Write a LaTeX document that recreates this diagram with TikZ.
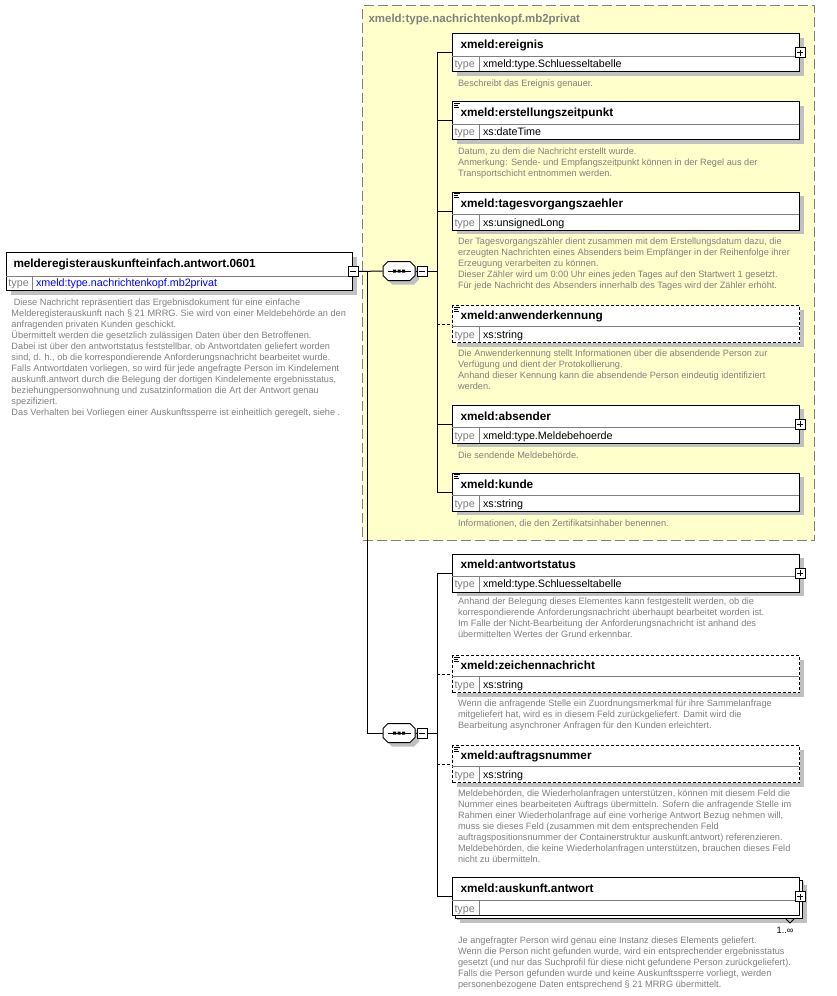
\documentclass[tikz,border=0pt]{standalone}
\usepackage{fontspec}
\setmainfont{Liberation Sans}
\usepackage{tikz}
\usetikzlibrary{positioning,calc,shadows}
\definecolor{DescGray}{RGB}{128,128,128}
\definecolor{ShadowGray}{RGB}{192,192,192}
\definecolor{GroupFill}{RGB}{255,255,204}
\definecolor{TypeBlue}{RGB}{0,0,255}

\tikzset{
  elbox/.style={draw, fill=white, anchor=north west, inner sep=0pt,
    minimum width=347pt, minimum height=38pt,
    drop shadow={shadow xshift=4pt, shadow yshift=-4pt, fill=ShadowGray, opacity=1}},
  optbox/.style={elbox, dash pattern=on 3pt off 2pt, minimum height=37pt},
  eltitle/.style={anchor=base west, inner sep=0pt, font=\fontsize{11.8}{14}\selectfont\bfseries},
  typelbl/.style={anchor=base west, inner sep=0pt, text=DescGray, font=\fontsize{10.75}{13}\selectfont},
  typeval/.style={anchor=base west, inner sep=0pt, font=\fontsize{10.75}{13}\selectfont},
  desc/.style={anchor=north west, inner sep=0pt, align=left, text=DescGray,
    font=\fontsize{9.2}{11}\selectfont, execute at begin node=\rule{0pt}{7.5pt}},
  cell/.style={draw=DescGray},
  optline/.style={dash pattern=on 3pt off 2pt},
  icon/.style={line width=0.8pt},
  grpbox/.style={draw=DescGray, fill=GroupFill, dash pattern=on 10pt off 4pt,
    anchor=north west, inner sep=0pt, minimum width=452pt, minimum height=535pt},
  grptitle/.style={anchor=base west, inner sep=0pt, text=DescGray, font=\fontsize{11.5}{14}\selectfont\bfseries},
  seq/.style={inner sep=0pt, minimum width=32pt, minimum height=19pt},
  seqsym/.pic={
    \fill[ShadowGray] (-7,-5.5) -- (15,-5.5) -- (20,-0.5) -- (20,8.5) -- (15,13.5) -- (-7,13.5) -- (-12,8.5) -- (-12,-0.5) -- cycle;
    \draw[fill=white] (-11,-9.5) -- (11,-9.5) -- (16,-4.5) -- (16,4.5) -- (11,9.5) -- (-11,9.5) -- (-16,4.5) -- (-16,-4.5) -- cycle;
    \draw (-11.5,0) -- (11.5,0);
    \fill (-6,-1.5) rectangle (-3,1.5) (-1.5,-1.5) rectangle (1.5,1.5) (3,-1.5) rectangle (6,1.5);
  },
  minusbox/.style={draw, fill=white, minimum size=10pt, inner sep=0pt,
    path picture={\draw ([xshift=2pt]path picture bounding box.west) -- ([xshift=-2pt]path picture bounding box.east);}},
  plusbox/.style={draw, fill=white, minimum size=10pt, inner sep=0pt,
    path picture={\draw ([xshift=2pt]path picture bounding box.west) -- ([xshift=-2pt]path picture bounding box.east)
      ([yshift=-2pt]path picture bounding box.north) -- ([yshift=2pt]path picture bounding box.south);}}
}

\begin{document}
\begin{tikzpicture}[x=1pt, y=-1pt, line width=1pt]
\useasboundingbox (0,0) rectangle (836,996);

% group xmeld:type.nachrichtenkopf.mb2privat
\node[grpbox] (grp) at (362,5) {};
\node[grptitle] (grp-n) at (368,22.7) {xmeld:type.nachrichtenkopf.mb2privat};

% root element
\node[elbox, minimum width=346pt] (root) at (6,252) {};
\node[eltitle, font=\fontsize{11.75}{14}\selectfont\bfseries] (root-n) at (13,267.7) {melderegisterauskunfteinfach.antwort.0601};
\draw[cell] (6,276) -- (352,276) (32,276) -- (32,290);
\node[typelbl] (root-l) at (8,286.7) {type};
\node[typeval, text=TypeBlue] (root-t) at (35.5,286.7) {xmeld:type.nachrichtenkopf.mb2privat};
\node[minusbox] (root-m) at (root.east) {};
\node[desc] (root-d) at (11,298.2) {\hspace{2.3pt}Diese Nachricht repräsentiert das Ergebnisdokument für eine einfache\\
  Melderegisterauskunft nach § 21 MRRG. Sie wird von einer Meldebehörde an den\\
  anfragenden privaten Kunden geschickt.\\
  Übermittelt werden die gesetzlich zulässigen Daten über den Betroffenen.\\
  Dabei ist über den antwortstatus feststellbar, ob Antwortdaten geliefert worden\\
  sind, d. h., ob die korrespondierende Anforderungsnachricht bearbeitet wurde.\\
  Falls Antwortdaten vorliegen, so wird für jede angefragte Person im Kindelement\\
  auskunft.antwort durch die Belegung der dortigen Kindelemente ergebnisstatus,\\
  beziehungpersonwohnung und zusatzinformation die Art der Antwort genau\\
  spezifiziert.\\
  Das Verhalten bei Vorliegen einer Auskunftssperre ist einheitlich geregelt, siehe .};

% sequences
\node[seq] (seq1) at (399,271) {};
\pic at (seq1) {seqsym};
\node[minusbox] (seq1-m) at (422,271) {};
\node[seq] (seq2) at (399,733) {};
\pic at (seq2) {seqsym};
\node[minusbox] (seq2-m) at (422,733) {};

% ereignis
\node[elbox] (ereignis) at (452,33) {};
\node[eltitle] (ereignis-n) at (460,48.5) {xmeld:ereignis};
\draw[cell] (452,56) -- (799,56) (479,56) -- (479,71);
\node[typelbl] (ereignis-l) at (454,67.5) {type};
\node[typeval] (ereignis-t) at (482.5,67.5) {xmeld:type.Schluesseltabelle};
\node[plusbox] (ereignis-p) at (ereignis.east) {};
\node[desc] (ereignis-d) at (457.5,78.5) {Beschreibt das Ereignis genauer.};

% erstellungszeitpunkt
\node[elbox] (erstellung) at (452,101) {};
\draw[icon] (erstellung.north west) +(2,2) -- +(8,2) +(2,4) -- +(6,4) +(2,6) -- +(7,6);
\node[eltitle] (erstellung-n) at (460,116.5) {xmeld:erstellungszeitpunkt};
\draw[cell] (452,124) -- (799,124) (479,124) -- (479,139);
\node[typelbl] (erstellung-l) at (454,135.5) {type};
\node[typeval] (erstellung-t) at (482.5,135.5) {xs:dateTime};
\node[desc] (erstellung-d) at (457.5,147.5) {Datum, zu dem die Nachricht erstellt wurde.\\
  Anmerkung: Sende- und Empfangszeitpunkt können in der Regel aus der\\
  Transportschicht entnommen werden.};

% tagesvorgangszaehler
\node[elbox] (tages) at (452,191.5) {};
\draw[icon] (tages.north west) +(2,2) -- +(8,2) +(2,4) -- +(6,4) +(2,6) -- +(7,6);
\node[eltitle] (tages-n) at (460,207) {xmeld:tagesvorgangszaehler};
\draw[cell] (452,214.5) -- (799,214.5) (479,214.5) -- (479,229.5);
\node[typelbl] (tages-l) at (454,226) {type};
\node[typeval] (tages-t) at (482.5,226) {xs:unsignedLong};
\node[desc] (tages-d) at (457.5,237.5) {Der Tagesvorgangszähler dient zusammen mit dem Erstellungsdatum dazu, die\\
  erzeugten Nachrichten eines Absenders beim Empfänger in der Reihenfolge ihrer\\
  Erzeugung verarbeiten zu können.\\
  Dieser Zähler wird um 0:00 Uhr eines jeden Tages auf den Startwert 1 gesetzt.\\
  Für jede Nachricht des Absenders innerhalb des Tages wird der Zähler erhöht.};

% anwenderkennung
\node[optbox] (anwender) at (452,305) {};
\draw[icon] (anwender.north west) +(2,2) -- +(8,2) +(2,4) -- +(6,4) +(2,6) -- +(7,6);
\node[eltitle] (anwender-n) at (460,319) {xmeld:anwenderkennung};
\draw[cell] (452,326.5) -- (799,326.5) (479,326.5) -- (479,342);
\node[typelbl] (anwender-l) at (454,338.5) {type};
\node[typeval] (anwender-t) at (482.5,338.5) {xs:string};
\node[desc] (anwender-d) at (457.5,349) {Die Anwenderkennung stellt Informationen über die absendende Person zur\\
  Verfügung und dient der Protokollierung.\\
  Anhand dieser Kennung kann die absendende Person eindeutig identifiziert\\
  werden.};

% absender
\node[elbox] (absender) at (452,404.5) {};
\node[eltitle] (absender-n) at (460,420) {xmeld:absender};
\draw[cell] (452,427.5) -- (799,427.5) (479,427.5) -- (479,442.5);
\node[typelbl] (absender-l) at (454,439) {type};
\node[typeval] (absender-t) at (482.5,439) {xmeld:type.Meldebehoerde};
\node[plusbox] (absender-p) at (absender.east) {};
\node[desc] (absender-d) at (457.5,450) {Die sendende Meldebehörde.};

% kunde
\node[elbox] (kunde) at (452,472.5) {};
\draw[icon] (kunde.north west) +(2,2) -- +(8,2) +(2,4) -- +(6,4) +(2,6) -- +(7,6);
\node[eltitle] (kunde-n) at (460,488) {xmeld:kunde};
\draw[cell] (452,495.5) -- (799,495.5) (479,495.5) -- (479,510.5);
\node[typelbl] (kunde-l) at (454,507) {type};
\node[typeval] (kunde-t) at (482.5,507) {xs:string};
\node[desc] (kunde-d) at (457.5,518.5) {Informationen, die den Zertifikatsinhaber benennen.};

% antwortstatus
\node[elbox] (status) at (452,553.5) {};
\node[eltitle] (status-n) at (460,568.5) {xmeld:antwortstatus};
\draw[cell] (452,576) -- (799,576) (479,576) -- (479,591.5);
\node[typelbl] (status-l) at (454,587.5) {type};
\node[typeval] (status-t) at (482.5,587.5) {xmeld:type.Schluesseltabelle};
\node[plusbox] (status-p) at (status.east) {};
\node[desc] (status-d) at (457.5,597.5) {Anhand der Belegung dieses Elementes kann festgestellt werden, ob die\\
  korrespondierende Anforderungsnachricht überhaupt bearbeitet worden ist.\\
  Im Falle der Nicht-Bearbeitung der Anforderungsnachricht ist anhand des\\
  übermittelten Wertes der Grund erkennbar.};

% zeichennachricht
\node[optbox] (zeichen) at (452,655) {};
\draw[icon] (zeichen.north west) +(2,2) -- +(8,2) +(2,4) -- +(6,4) +(2,6) -- +(7,6);
\node[eltitle] (zeichen-n) at (460,669) {xmeld:zeichennachricht};
\draw[cell] (452,676.5) -- (799,676.5) (479,676.5) -- (479,692);
\node[typelbl] (zeichen-l) at (454,688.5) {type};
\node[typeval] (zeichen-t) at (482.5,688.5) {xs:string};
\node[desc] (zeichen-d) at (457.5,699.5) {Wenn die anfragende Stelle ein Zuordnungsmerkmal für ihre Sammelanfrage\\
  mitgeliefert hat, wird es in diesem Feld zurückgeliefert. Damit wird die\\
  Bearbeitung asynchroner Anfragen für den Kunden erleichtert.};

% auftragsnummer
\node[optbox] (auftrag) at (452,745) {};
\draw[icon] (auftrag.north west) +(2,2) -- +(8,2) +(2,4) -- +(6,4) +(2,6) -- +(7,6);
\node[eltitle] (auftrag-n) at (460,759) {xmeld:auftragsnummer};
\draw[cell] (452,766.5) -- (799,766.5) (479,766.5) -- (479,782);
\node[typelbl] (auftrag-l) at (454,778.5) {type};
\node[typeval] (auftrag-t) at (482.5,778.5) {xs:string};
\node[desc] (auftrag-d) at (457.5,789) {Meldebehörden, die Wiederholanfragen unterstützen, können mit diesem Feld die\\
  Nummer eines bearbeiteten Auftrags übermitteln. Sofern die anfragende Stelle im\\
  Rahmen einer Wiederholanfrage auf eine vorherige Antwort Bezug nehmen will,\\
  muss sie dieses Feld (zusammen mit dem entsprechenden Feld\\
  auftragspositionsnummer der Containerstruktur auskunft.antwort) referenzieren.\\
  Meldebehörden, die keine Wiederholanfragen unterstützen, brauchen dieses Feld\\
  nicht zu übermitteln.};

% auskunft.antwort (1..unbounded)
\node[elbox, drop shadow={shadow xshift=7pt, shadow yshift=-7pt, fill=ShadowGray, opacity=1},
  copy shadow={shadow xshift=3pt, shadow yshift=-3pt}] (auskunft) at (452,877) {};
\node[eltitle] (auskunft-n) at (460,892.5) {xmeld:auskunft.antwort};
\draw[cell] (452,900.5) -- (799,900.5) (479,900.5) -- (479,915);
\node[typelbl] (auskunft-l) at (454,912) {type};
\node[plusbox] (auskunft-p) at (auskunft.east) {};
\draw[line width=0.8pt] (786,919) -- (790,923) -- (794,919);
\node[anchor=base east, inner sep=0pt, font=\fontsize{9.2}{11}\selectfont] (auskunft-o) at (794,933) {1..∞};
\node[desc] (auskunft-d) at (457.5,936.5) {Je angefragter Person wird genau eine Instanz dieses Elements geliefert.\\
  Wenn die Person nicht gefunden wurde, wird ein entsprechender ergebnisstatus\\
  gesetzt (und nur das Suchprofil für diese nicht gefundene Person zurückgeliefert).\\
  Falls die Person gefunden wurde und keine Auskunftssperre vorliegt, werden\\
  personenbezogene Daten entsprechend § 21 MRRG übermittelt.};

% connectors
\coordinate (fork) at (367,271);
\coordinate (bus1) at (437,271);
\coordinate (bus2) at (437,733);
\draw (root-m.east) -- (seq1.west);
\draw (fork) |- (seq2.west);
\draw (seq1.east) -- (seq1-m.west);
\draw (seq2.east) -- (seq2-m.west);
\draw (seq1-m.east) -- (bus1);
\draw (seq2-m.east) -- (bus2);
\draw (bus1) |- (ereignis.west);
\draw (bus1) |- (erstellung.west);
\draw (bus1) |- (tages.west);
\draw[optline] (bus1 |- anwender.west) -- (anwender.west);
\draw (bus1) |- (absender.west);
\draw (bus1) |- (kunde.west);
\draw (bus2) |- (status.west);
\draw[optline] (bus2 |- zeichen.west) -- (zeichen.west);
\draw[optline] (bus2 |- auftrag.west) -- (auftrag.west);
\draw (bus2) |- (auskunft.west);
\end{tikzpicture}
\end{document}
